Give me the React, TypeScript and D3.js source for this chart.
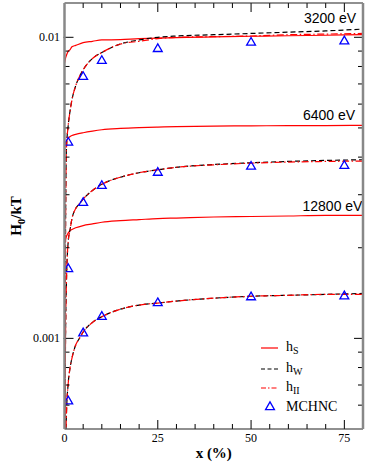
import React from 'react'
import * as d3 from 'd3'

// x grid (%) for the model curves
const xS = [0, 0.25, 0.5, 1, 1.5, 2, 3, 5, 7.5, 10, 15, 20, 25, 30, 40, 50, 60, 70, 80]
const xW = [0.1, 0.25, 0.5, 1, 1.5, 2, 3, 4, 5, 7.5, 10, 15, 20, 25, 30, 40, 50, 60, 70, 80]

// h_S (red solid)
const hS3200 = [0.0082, 0.0085, 0.0087, 0.0090, 0.0091, 0.0093, 0.0094, 0.0096, 0.0097, 0.0098, 0.00982, 0.0099, 0.00993, 0.00998, 0.01003, 0.01008, 0.01012, 0.01016, 0.0102]
const hS6400 = [0.00423, 0.0044, 0.0045, 0.00462, 0.00468, 0.00472, 0.00476, 0.00482, 0.00488, 0.00493, 0.00498, 0.00501, 0.00503, 0.00505, 0.00507, 0.00508, 0.00509, 0.00509, 0.0051]
const hS12800 = [0.00207, 0.00213, 0.00218, 0.00224, 0.00228, 0.0023, 0.00233, 0.00237, 0.0024, 0.00243, 0.00246, 0.00248, 0.0025, 0.00251, 0.00253, 0.00254, 0.00255, 0.00256, 0.00256]

// h_W (black dashed)
const hW3200 = [0.0004, 0.0019, 0.0042, 0.0051, 0.0057, 0.0062, 0.0069, 0.0074, 0.0078, 0.0085, 0.0089, 0.0095, 0.0098, 0.0100, 0.0101, 0.0102, 0.0103, 0.0104, 0.0105, 0.01065]
const hW6400 = [0.0003, 0.0009, 0.0015, 0.0021, 0.0023, 0.0025, 0.0027, 0.0028, 0.0029, 0.0031, 0.00325, 0.00343, 0.00355, 0.00363, 0.0037, 0.00378, 0.00383, 0.00387, 0.0039, 0.00392]
const hW12800 = [0.0002, 0.0004, 0.00055, 0.00071, 0.0008, 0.00086, 0.00095, 0.001, 0.00105, 0.00113, 0.00118, 0.00125, 0.00129, 0.00131, 0.00133, 0.00136, 0.00138, 0.00139, 0.0014, 0.00141]

// h_II (red dash-dot)
const hII3200 = [0.0004, 0.0019, 0.0042, 0.0051, 0.0057, 0.0062, 0.0069, 0.0074, 0.0078, 0.0085, 0.0089, 0.0095, 0.0097, 0.0099, 0.0100, 0.01005, 0.0101, 0.0102, 0.01025, 0.0103]
const hII6400 = [0.0003, 0.0009, 0.0015, 0.0021, 0.0023, 0.0025, 0.0027, 0.0028, 0.0029, 0.0031, 0.00325, 0.00343, 0.00355, 0.00363, 0.0037, 0.00377, 0.00382, 0.00385, 0.00387, 0.00388]
const hII12800 = [0.0002, 0.0004, 0.00055, 0.00071, 0.0008, 0.00086, 0.00095, 0.001, 0.00105, 0.00113, 0.00118, 0.00125, 0.00129, 0.00131, 0.00133, 0.00136, 0.00138, 0.00139, 0.0014, 0.0014]

// MCHNC (blue triangles)
const xMC = [1, 5, 10, 25, 50, 75]
const mc3200 = [0.00447, 0.00739, 0.00835, 0.00915, 0.0096, 0.0097]
const mc6400 = [0.0017, 0.00282, 0.00321, 0.00355, 0.00372, 0.00374]
const mc12800 = [0.000618, 0.00104, 0.00118, 0.00131, 0.00137, 0.00138]

const xTicks = [0, 25, 50, 75]
const yTicks = [0.001, 0.01]
const energies = ['3200 eV', '6400 eV', '12800 eV']

const W = 382
const H = 471
const left = 64.5
const right = 363
const top = 3
const bottom = 429

export default function App() {
  const x = d3.scaleLinear().domain([0, 80]).range([left, right])
  const y = d3.scaleLog().domain([0.0005, 0.013]).range([bottom, top])

  const line = (xs: number[], ys: number[]) =>
    d3.line<number>()
      .x((_, i) => x(xs[i]))
      .y(d => y(d))
      .curve(d3.curveMonotoneX)(ys) || ''

  const tri = d3.symbol().type(d3.symbolTriangle).size(34)()

  const minorX = d3.range(0, 81, 5)
  const minorY = [
    ...d3.range(6, 10).map(k => k * 0.0001),
    ...d3.range(2, 10).map(k => k * 0.001),
  ]

  const serif = 'Liberation Serif, Times New Roman, serif'
  const sans = 'Liberation Sans, Arial, sans-serif'

  return (
    <svg width={W} height={H} style={{ position: 'absolute', left: 0, top: 0, background: '#fff' }}>
      <defs>
        <clipPath id="plot">
          <rect x={left} y={top} width={right - left} height={bottom - top} />
        </clipPath>
      </defs>

      <g clipPath="url(#plot)" fill="none" strokeWidth={1.2}>
        {[hS3200, hS6400, hS12800].map((s, i) => (
          <path key={'s' + i} d={line(xS, s)} stroke="#ff0000" />
        ))}
        {[hW3200, hW6400, hW12800].map((s, i) => (
          <path key={'w' + i} d={line(xW, s)} stroke="#000" strokeDasharray="5,3" />
        ))}
        {[hII3200, hII6400, hII12800].map((s, i) => (
          <path key={'ii' + i} d={line(xW, s)} stroke="#ff0000" strokeDasharray="7,2.5,1.5,2.5" />
        ))}
        {[mc3200, mc6400, mc12800].map((s, i) =>
          s.map((v, j) => (
            <path key={'m' + i + j} d={tri} transform={`translate(${x(xMC[j])},${y(v)})`}
              stroke="#0000ff" strokeWidth={1.3} fill="none" />
          ))
        )}
      </g>

      {/* energy labels */}
      <g fontFamily={sans} fontSize={14} fill="#000">
        <text x={304} y={23}>{energies[0]}</text>
        <text x={303} y={120}>{energies[1]}</text>
        <text x={302.5} y={211}>{energies[2]}</text>
      </g>

      {/* ticks */}
      <g stroke="#000" strokeWidth={1}>
        {minorX.map(v => {
          const major = v % 25 === 0
          const l = major ? 9 : 5
          return (
            <g key={'tx' + v}>
              <line x1={x(v)} x2={x(v)} y1={bottom} y2={bottom - l} />
              <line x1={x(v)} x2={x(v)} y1={top} y2={top + l} />
            </g>
          )
        })}
        {minorY.map(v => (
          <g key={'my' + v}>
            <line x1={left} x2={left + 5} y1={y(v)} y2={y(v)} />
            <line x1={right} x2={right - 5} y1={y(v)} y2={y(v)} />
          </g>
        ))}
        {yTicks.map(v => (
          <g key={'ty' + v}>
            <line x1={left - 1} x2={left + 9} y1={y(v)} y2={y(v)} />
            <line x1={right} x2={right - 9} y1={y(v)} y2={y(v)} />
          </g>
        ))}
      </g>

      {/* frame */}
      <line x1={left} x2={right} y1={top} y2={top} stroke="#222" strokeWidth={1.2} />
      <line x1={left} x2={right} y1={bottom} y2={bottom} stroke="#222" strokeWidth={1.2} />
      <line x1={left} x2={left} y1={top} y2={bottom} stroke="#888" strokeWidth={2.5} />
      <line x1={right} x2={right} y1={top} y2={bottom} stroke="#888" strokeWidth={2.5} />

      {/* tick labels */}
      <g fontFamily={serif} fontSize={12} fill="#000">
        {xTicks.map(v => (
          <text key={'lx' + v} x={x(v)} y={442} textAnchor="middle">{v}</text>
        ))}
        {yTicks.map(v => (
          <text key={'ly' + v} x={60} y={y(v) + 4} textAnchor="end">{v}</text>
        ))}
      </g>

      {/* axis titles */}
      <text x={(left + right) / 2} y={458} textAnchor="middle" fontFamily={serif} fontSize={15} fontWeight="bold">
        x (%)
      </text>
      <text transform="translate(21,216) rotate(-90)" textAnchor="middle" fontFamily={serif} fontSize={15} fontWeight="bold">
        H<tspan fontSize={11} dy={4}>0</tspan><tspan dy={-4}>/kT</tspan>
      </text>

      {/* legend */}
      <g fontFamily={serif} fontSize={14} fill="#000">
        <line x1={261} x2={278} y1={348} y2={348} stroke="#ff0000" strokeWidth={1.2} />
        <text x={286} y={351}>h<tspan fontSize={10} dy={3}>S</tspan></text>
        <line x1={261} x2={278} y1={369} y2={369} stroke="#000" strokeWidth={1.2} strokeDasharray="4,2.5" />
        <text x={286} y={372}>h<tspan fontSize={10} dy={3}>W</tspan></text>
        <line x1={261} x2={278} y1={388} y2={388} stroke="#ff0000" strokeWidth={1.2} strokeDasharray="5,2,1.5,2" />
        <text x={286} y={391}>h<tspan fontSize={10} dy={3}>II</tspan></text>
        <path d={tri} transform="translate(270,407)" stroke="#0000ff" strokeWidth={1.3} fill="none" />
        <text x={286} y={411}>MCHNC</text>
      </g>
    </svg>
  )
}
